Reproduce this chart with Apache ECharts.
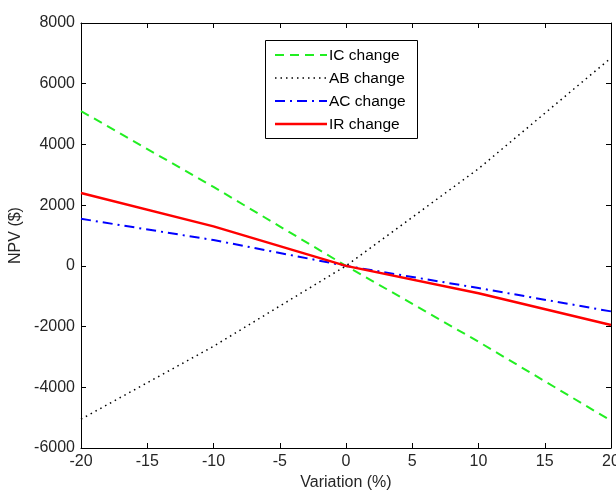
<!DOCTYPE html>
<html>
<head>
<meta charset="utf-8">
<script src="https://cdn.jsdelivr.net/npm/echarts@6/dist/echarts.min.js"></script>
<style>
html,body{margin:0;padding:0;background:#fff;}
#main{width:616px;height:491px;}
</style>
</head>
<body>
<div id="main"></div>
<script>
var variation = [-20, -10, 0, 10, 20];
var icChange = [5100, 2600, 0, -2500, -5100];
var abChange = [-5050, -2650, 0, 3200, 6850];
var acChange = [1550, 850, 0, -730, -1500];
var irChange = [2400, 1300, 0, -900, -1950];
var seriesNames = ['IC change', 'AB change', 'AC change', 'IR change'];

function pairs(ys) { return variation.map(function (x, i) { return [x, ys[i]]; }); }

var font = 'Liberation Sans, Arial, sans-serif';
var fs = 16;
var txtColor = '#262626';
var axisLine = { show: true, onZero: false, lineStyle: { color: '#000', width: 1 } };
var tickStyle = { show: true, inside: true, length: 5, lineStyle: { color: '#000' } };

var styles = [
  { color: '#22ee22', width: 2, type: [9, 6] },
  { color: '#000000', width: 1.5, type: [1.5, 4] },
  { color: '#0000ff', width: 2, type: [10, 5, 2, 5] },
  { color: '#ff0000', width: 2.5, type: 'solid' }
];
var seriesData = [icChange, abChange, acChange, irChange];

var graphics = [{
  type: 'rect', left: 265, top: 40, z: 100,
  shape: { width: 152, height: 98 },
  style: { fill: '#fff', stroke: '#000', lineWidth: 1 }
}];
seriesNames.forEach(function (n, i) {
  var y = 55 + i * 23;
  graphics.push({
    type: 'line', z: 101,
    shape: { x1: 275, y1: y, x2: 327, y2: y },
    style: { stroke: styles[i].color, lineWidth: styles[i].width, lineDash: styles[i].type === 'solid' ? null : styles[i].type }
  });
  graphics.push({
    type: 'text', z: 101, x: 329, y: y + 1,
    style: { text: n, font: '15.5px ' + font, fill: '#000', textVerticalAlign: 'middle', textBaseline: 'middle' }
  });
});

var chart = echarts.init(document.getElementById('main'));
chart.setOption({
  animation: false,
  backgroundColor: '#fff',
  grid: { left: 81, right: 5, top: 23, bottom: 43, containLabel: false, outerBoundsMode: 'none' },
  graphic: graphics,
  xAxis: [{
    type: 'value', min: -20, max: 20, interval: 5,
    name: 'Variation (%)', nameLocation: 'middle', nameGap: 25,
    nameTextStyle: { fontFamily: font, fontSize: fs, color: txtColor },
    axisLine: axisLine, axisTick: tickStyle,
    axisLabel: { fontFamily: font, fontSize: fs, color: txtColor, margin: 6 },
    splitLine: { show: false }
  }, {
    type: 'value', min: -20, max: 20, interval: 5, position: 'top',
    axisLine: axisLine, axisTick: tickStyle, axisLabel: { show: false }, splitLine: { show: false }
  }],
  yAxis: [{
    type: 'value', min: -6000, max: 8000, interval: 2000,
    name: 'NPV ($)', nameLocation: 'middle', nameGap: 53, nameRotate: 90,
    nameTextStyle: { fontFamily: font, fontSize: fs, color: txtColor },
    axisLine: axisLine, axisTick: tickStyle,
    axisLabel: { fontFamily: font, fontSize: fs, color: txtColor, margin: 6, formatter: function (v) { return String(v); } },
    splitLine: { show: false }
  }, {
    type: 'value', min: -6000, max: 8000, interval: 2000, position: 'right',
    axisLine: axisLine, axisTick: tickStyle, axisLabel: { show: false }, splitLine: { show: false }
  }],
  series: seriesNames.map(function (n, i) {
    return {
      name: n, type: 'line', data: pairs(seriesData[i]), symbol: 'none',
      lineStyle: { color: styles[i].color, width: styles[i].width, type: styles[i].type },
      itemStyle: { color: styles[i].color }
    };
  })
});
</script>
</body>
</html>
